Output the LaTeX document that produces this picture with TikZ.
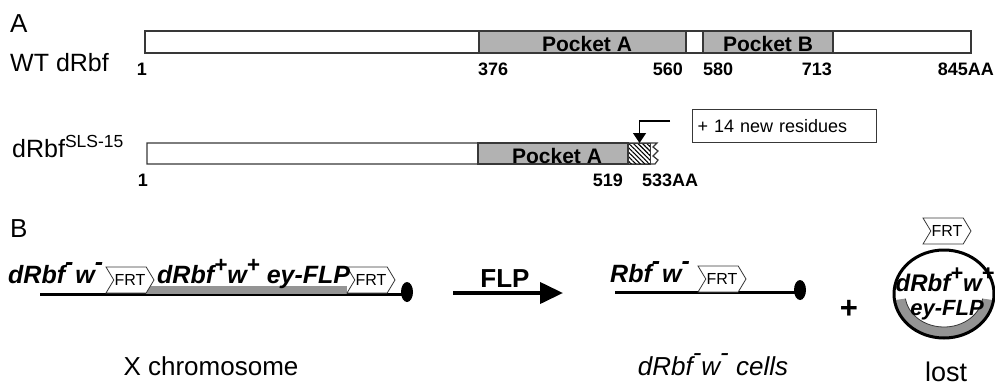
\documentclass[tikz,border=0pt]{standalone}
\usepackage{fontspec}
\setmainfont{Liberation Sans}
\usetikzlibrary{arrows.meta,shapes.symbols,shapes.geometric,patterns.meta}
\definecolor{edge}{gray}{0.22}
\definecolor{pocket}{gray}{0.70}
\definecolor{band}{gray}{0.58}
\newcommand\fsz[1]{\fontsize{#1}{#1}\selectfont}
\newcommand\gsup[1]{\textsuperscript{#1}}
\newcommand\gminus{\raisebox{0.52em}{-}}
\newcommand\gplus{\raisebox{0.42em}{\scalebox{0.9}{+}}}
\begin{document}
\begin{tikzpicture}[x=1pt, y=-1pt, every node/.style={inner sep=0pt, font=\fsz{25}},
  num/.style={font=\fsz{18}\bfseries}, pk/.style={font=\fsz{21}\bfseries, anchor=base},
  gene/.style={font=\fsz{25}\bfseries\itshape, anchor=base west},
  bar/.style={draw=edge, line width=1.2pt, fill=white}, pock/.style={bar, fill=pocket},
  frt/.style={signal, signal to=east, signal from=west, draw=edge, fill=white, line width=0.8pt,
    minimum width=48pt, minimum height=26pt, signal pointer angle=118, font=\fsz{16}},
  chrom/.style={line width=3pt}, cen/.style={fill, ellipse},
  ]
  \useasboundingbox (0,0) rectangle (995,388);
  % A: wild type and truncated protein
  \node[font=\fsz{26}, anchor=base west] (lblA) at (10,32) {A};
  \node[anchor=base west] (wt) at (10,71) {WT dRbf};
  \draw[bar] (145,31) rectangle (971,53);
  \draw[pock] (479,31) rectangle (686,53); \draw[pock] (703,31) rectangle (833,53);
  \node[pk] (pkA) at (587,51) {Pocket A}; \node[pk] (pkB) at (768,51) {Pocket B};
  \foreach \x/\a/\t in {142/base/1, 478/base west/376, 683/base east/560, 703/base west/580, 832/base east/713, 994/base east/845AA}
    \node[num, anchor=\a] (n\t) at (\x,75) {\t};
  \node[anchor=base west] (sls) at (12,157) {dRbf\gsup{SLS-15}};
  \draw[bar] (147,143) -- (657,143) -- (653,147) -- (658,151) -- (653,156) -- (658,160) -- (655,164) -- (147,164) -- cycle;
  \draw[pock] (478,143) rectangle (628,164);
  \node[draw=edge, line width=1.2pt, pattern={Lines[angle=-45,distance=3.2pt,line width=1.1pt]},
    minimum width=22pt, minimum height=21pt, anchor=north west] (cut) at (628,143) {};
  \node[pk] (pkA2) at (557,163) {Pocket A};
  \foreach \x/\a/\t in {143/base/1, 623/base east/519, 642/base west/533AA}
    \node[num, anchor=\a] (m\t) at (\x,186) {\t};
  \node[draw=edge, line width=1.2pt, minimum width=184pt, minimum height=33pt, anchor=north west,
    font=\fsz{18}, text width=174pt, align=left] (resid) at (692,109) {+ 14 new residues};
  \coordinate (hook) at (670,121);
  \draw[line width=1.2pt, -{Triangle[length=10pt,width=13pt]}] (hook) -| (cut.north);
  % B: FLP excision
  \node[font=\fsz{26}, anchor=base west] (lblB) at (10,237) {B};
  \draw[chrom] (40,294) -- (407,294);
  \fill[band] (146,286) rectangle (347,294);
  \node[cen, minimum width=12pt, minimum height=20pt] (cenL) at (407,292) {};
  \node[frt] (frt1) at (130,280) {FRT}; \node[frt] (frt2) at (371,280) {FRT};
  \node[gene] (g1) at (8,283) {dRbf\gminus\kern2pt w\gminus};
  \node[gene] (g2) at (157,283) {dRbf\gplus w\gplus\ ey-FLP};
  \coordinate (flpS) at (453,293); \coordinate (flpE) at (563,293);
  \draw[line width=4pt, -{Triangle[length=23pt,width=21pt]}] (flpS) -- (flpE);
  \node[font=\fsz{26}\bfseries, anchor=base] (flp) at (505,287) {FLP};
  \draw[chrom] (615,292) -- (800,292);
  \node[cen, minimum width=12pt, minimum height=20pt] (cenR) at (800,290) {};
  \node[frt] (frt3) at (722,279) {FRT};
  \node[gene] (g3) at (610,282) {Rbf\gminus\kern2pt w\gminus};
  \node[font=\fsz{31}\bfseries] (plus) at (849,309) {+};
  % excised circle
  \fill[band] (894.5,300.1) arc[start angle=172, end angle=8, x radius=50, y radius=44]
    -- (982.6,298.6) arc[start angle=8, end angle=172, x radius=39, y radius=33] -- cycle;
  \draw[edge, line width=0.8pt] (982.6,298.6) arc[start angle=8, end angle=172, x radius=39, y radius=33];
  \draw[line width=3pt] (944,294) ellipse [x radius=50, y radius=44];
  \node[frt] (frt4) at (947,231) {FRT};
  \node[font=\fsz{24}\bfseries\itshape, anchor=base] (g4) at (945,291) {dRbf\gplus w\gplus};
  \node[font=\fsz{22}\bfseries\itshape, anchor=base] (g5) at (947,315) {ey-FLP};
  \node[font=\fsz{26}, anchor=base] (xc) at (211,375) {X chromosome};
  \node[font=\fsz{26}\itshape, anchor=base] (cells) at (713,375) {dRbf\gminus w\gminus\ cells};
  \node[font=\fsz{27}, anchor=base] (lost) at (946,381) {lost};
\end{tikzpicture}
\end{document}
